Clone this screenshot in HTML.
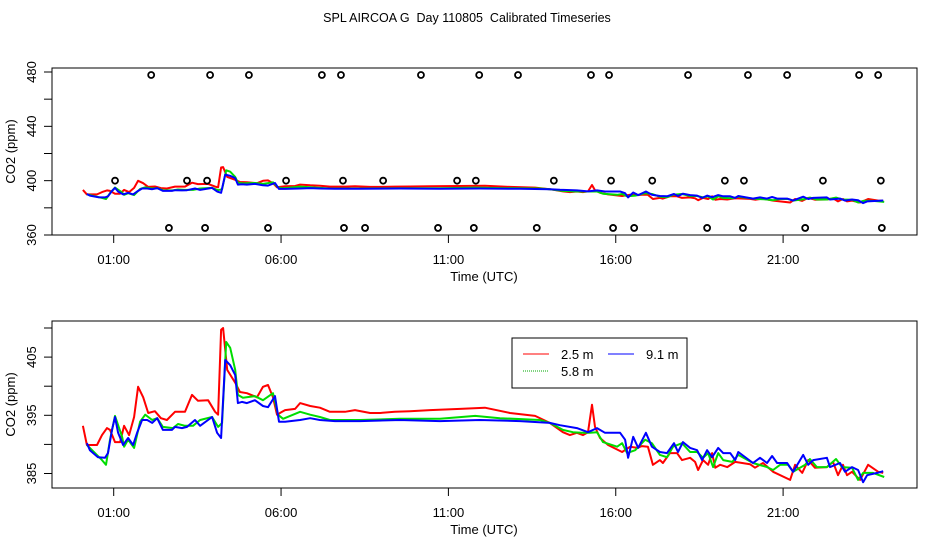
<!DOCTYPE html>
<html><head><meta charset="utf-8"><style>
html,body{margin:0;padding:0;background:#fff;}
svg{display:block;font-family:"Liberation Sans",sans-serif;}
</style></head><body>
<svg id="chart" width="936" height="540" viewBox="0 0 936 540">
<rect width="936" height="540" fill="#fff"/>
<text x="467" y="22" text-anchor="middle" font-size="12.5" style="white-space:pre">SPL AIRCOA G  Day 110805  Calibrated Timeseries</text>
<g id="top"></g>
<g id="bot"></g>
</svg>
<script>
const xTickHours = [1, 6, 11, 16, 21];
const xTickLabels = ["01:00", "06:00", "11:00", "16:00", "21:00"];
const topYTicks = [360, 380, 400, 420, 440, 460, 480];
const topYLabels = ["360", "", "400", "", "440", "", "480"];
const botYTicks = [385, 390, 395, 400, 405, 410];
const botYLabels = ["385", "", "395", "", "405", ""];

const redHours = [0.08,0.20,0.50,0.65,0.80,0.89,1.04,1.19,1.31,1.46,1.61,1.73,1.88,2.03,2.23,2.41,2.59,2.83,3.13,3.34,3.52,3.82,4.03,4.12,4.21,4.27,4.39,4.63,4.77,4.98,5.28,5.46,5.61,5.76,5.88,6.03,6.12,6.42,6.57,6.87,7.16,7.46,7.91,8.21,8.66,8.96,9.40,9.85,10.45,11.35,12.09,12.84,13.59,14.03,14.42,14.63,14.84,15.02,15.17,15.29,15.38,15.53,15.77,16.19,16.43,16.64,16.78,16.96,17.11,17.32,17.41,17.62,17.83,17.98,18.22,18.37,18.46,18.61,18.76,18.88,18.97,19.12,19.33,19.57,20.01,20.16,20.40,20.70,21.21,21.36,21.57,21.75,21.95,22.31,22.49,22.64,22.79,22.91,23.06,23.30,23.54,23.84,23.99];
const redValues = [393.2,389.9,389.9,391.6,392.8,392.5,390.4,390.4,393.2,391.6,394.7,399.9,398.1,395.4,395.7,394.5,394.2,395.6,395.6,398.5,397.5,397.6,395.6,395.1,409.7,410.0,402.8,400.6,399.0,398.8,398.1,399.9,400.2,398.1,395.1,395.6,395.9,396.1,397.1,396.6,396.3,395.6,395.6,395.9,395.4,395.4,395.6,395.7,395.9,396.1,396.3,395.4,394.9,393.7,392.1,391.6,392.0,391.6,392.1,396.8,393.0,391.1,389.9,388.7,389.6,389.4,389.7,389.6,386.5,387.3,386.8,388.5,388.5,387.3,387.7,387.0,385.6,387.3,386.5,388.5,386.0,386.5,386.1,387.0,386.6,386.0,386.8,385.3,383.9,386.5,385.1,387.3,386.0,386.1,387.0,384.7,386.5,384.7,385.3,383.9,386.5,385.3,385.1];

const greenHours = [0.20,0.44,0.65,0.77,0.89,1.04,1.25,1.31,1.43,1.61,1.79,1.94,2.15,2.30,2.47,2.77,2.92,3.13,3.37,3.58,3.94,4.12,4.24,4.36,4.48,4.63,4.71,4.86,5.22,5.46,5.76,5.91,6.06,6.57,6.87,7.16,7.46,8.36,9.55,10.75,11.80,12.54,13.74,14.03,14.42,14.72,14.99,15.23,15.44,15.62,16.04,16.19,16.34,16.58,16.88,17.08,17.32,17.53,17.71,17.98,18.22,18.43,18.61,18.76,18.91,19.06,19.21,19.48,19.66,20.10,20.52,20.70,20.91,21.15,21.30,21.66,21.80,22.01,22.31,22.58,22.76,23.06,23.24,23.39,23.69,24.02];
const greenValues = [389.9,388.5,387.3,386.5,390.8,394.9,391.3,389.6,390.8,389.4,393.9,395.1,394.2,394.5,393.0,392.8,393.5,393.2,393.2,394.2,394.7,393.0,393.7,407.6,406.6,402.8,398.5,398.0,398.3,397.6,398.8,395.1,394.4,395.6,395.1,394.7,394.2,394.2,394.4,394.4,394.9,394.5,394.2,393.7,392.5,392.1,392.0,392.0,392.1,390.4,389.6,390.2,388.5,389.0,390.8,390.2,388.2,387.8,389.6,390.2,388.7,388.7,387.7,388.5,386.1,388.5,387.3,387.0,388.2,386.8,386.1,385.6,386.5,386.5,385.3,386.5,387.5,386.1,386.1,387.5,386.1,386.0,383.9,385.1,385.1,384.4];

const blueHours = [0.20,0.29,0.53,0.74,0.83,0.95,1.04,1.13,1.28,1.43,1.58,1.70,1.85,2.00,2.15,2.30,2.47,2.74,2.83,3.04,3.19,3.43,3.58,3.94,4.09,4.21,4.33,4.48,4.63,4.71,4.83,4.98,5.22,5.46,5.61,5.82,5.94,6.12,6.57,6.87,7.16,7.61,8.36,9.55,10.75,11.94,13.14,14.03,14.33,14.84,15.17,15.44,15.68,16.13,16.28,16.37,16.52,16.67,16.90,17.08,17.32,17.53,17.74,17.86,18.01,18.22,18.43,18.58,18.73,18.88,19.06,19.21,19.42,19.57,19.66,20.10,20.31,20.52,20.67,20.82,21.12,21.30,21.60,21.75,21.90,22.31,22.40,22.70,22.85,23.06,23.24,23.39,23.51,23.81,23.99];
const blueValues = [390.2,389.0,387.8,387.7,388.5,392.5,394.7,392.0,389.9,391.1,389.9,392.0,394.2,394.2,393.7,394.5,392.5,392.5,393.0,392.8,393.0,394.2,393.2,394.7,392.0,391.1,404.5,403.6,401.9,397.1,397.3,397.1,397.6,396.6,396.4,398.3,393.9,393.9,394.2,394.5,394.2,394.0,394.0,394.2,394.0,394.2,394.0,393.7,393.3,392.8,392.1,392.8,392.0,392.0,390.8,387.7,391.3,389.4,392.0,389.6,388.7,388.5,390.2,388.7,390.4,389.4,389.0,387.3,389.0,387.8,389.4,388.5,388.5,387.3,388.7,386.8,387.7,386.8,388.0,386.8,386.8,385.3,388.2,386.5,387.3,387.7,386.1,386.8,385.3,386.1,385.6,383.5,384.7,385.1,385.4];

const flagHighHours = [2.12,3.88,5.04,7.22,7.79,10.18,11.92,13.08,15.26,15.80,18.16,19.95,21.12,23.27,23.84];
const flagMidHours = [1.04,3.19,3.79,6.15,7.85,9.05,11.26,11.82,14.15,15.86,17.09,19.26,19.83,22.19,23.92];
const flagLowHours = [2.65,3.73,5.61,7.88,8.51,10.69,11.76,13.64,15.92,16.55,18.73,19.80,21.66,23.95];
const flagLevels = [477.8, 400, 365.2];

const NS = "http://www.w3.org/2000/svg";
function mk(parent, tag, attrs) {
  const e = document.createElementNS(NS, tag);
  for (const k in attrs) e.setAttribute(k, attrs[k]);
  parent.appendChild(e);
  return e;
}
const xScale = h => 113.7 + (h - 1) * 33.47;

function panel(g, top, bottom, yScale, yTicks, yLabels, withFlags) {
  const box = mk(g, "rect", {x: 52, y: top, width: 865, height: bottom - top, fill: "none", stroke: "#000", "stroke-width": 1});
  
  
  xTickHours.forEach((h, i) => {
    const x = xScale(h);
    const t = mk(g, "line", {x1: x, x2: x, y1: bottom, y2: bottom + 8, stroke: "#000"});
    
    
    const lb = mk(g, "text", {x: x, y: bottom + 29, "text-anchor": "middle", "font-size": 13});
    lb.textContent = xTickLabels[i];
    
    
  });
  const xt = mk(g, "text", {x: 484, y: bottom + 46, "text-anchor": "middle", "font-size": 13});
  xt.textContent = "Time (UTC)";
  
  
  yTicks.forEach((v, i) => {
    const y = yScale(v);
    const t = mk(g, "line", {x1: 44, x2: 52, y1: y, y2: y, stroke: "#000"});
    
    
    if (yLabels[i]) {
      const lb = mk(g, "text", {x: 0, y: 0, "text-anchor": "middle", "font-size": 13, transform: `translate(36,${y}) rotate(-90)`});
      lb.textContent = yLabels[i];
      
      
    }
  });
  const yt = mk(g, "text", {x: 0, y: 0, "text-anchor": "middle", "font-size": 13, transform: `translate(15,${(top + bottom) / 2}) rotate(-90)`});
  yt.textContent = "CO2 (ppm)";
  
  

  const series = [[redHours, redValues, "#f00", "series-2-5m"], [greenHours, greenValues, "#0d0", "series-5-8m"], [blueHours, blueValues, "#00f", "series-9-1m"]];
  series.forEach(s => {
    const d = s[0].map((h, i) => (i ? "L" : "M") + xScale(h).toFixed(1) + "," + yScale(s[1][i]).toFixed(1)).join(" ");
    const p = mk(g, "path", {d: d, fill: "none", stroke: s[2], "stroke-width": 2, "stroke-linejoin": "round"});
    
    
  });
  if (withFlags) {
    [flagHighHours, flagMidHours, flagLowHours].forEach((arr, r) => {
      arr.forEach(h => {
        const c = mk(g, "circle", {cx: xScale(h), cy: yScale(flagLevels[r]), r: 3, fill: "none", stroke: "#000", "stroke-width": 1.8});
        
        
      });
    });
  }
}

const topY = v => 72 + (480 - v) * 1.3583;
const botY = v => 415.3 + (395 - v) * 5.82;
panel(document.getElementById("top"), 68, 235, topY, topYTicks, topYLabels, true);
panel(document.getElementById("bot"), 321, 488, botY, botYTicks, botYLabels, false);

// legend
const bg = document.getElementById("bot");
const lg = mk(bg, "g", {});


const lr = mk(lg, "rect", {x: 512, y: 338, width: 175, height: 50, fill: "#fff", stroke: "#000"});


const entries = [[523, 354, 561, "2.5 m", "#f00", ""], [608, 354, 646, "9.1 m", "#00f", ""], [523, 371, 561, "5.8 m", "#0a0", "1,1"]];
entries.forEach(e => {
  const l = mk(lg, "line", {x1: e[0], x2: e[0] + 26, y1: e[1], y2: e[1], stroke: e[4], "stroke-width": 1});
  if (e[5]) l.setAttribute("stroke-dasharray", e[5]);
  
  
  const t = mk(lg, "text", {x: e[2], y: e[1] + 5, "font-size": 13});
  t.textContent = e[3];
  
  
});
</script>
</body></html>
